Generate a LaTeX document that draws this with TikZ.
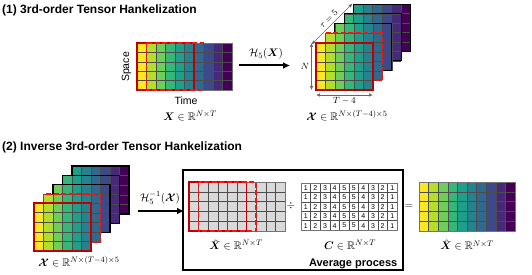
\documentclass[tikz,border=0pt]{standalone}
\usepackage{amsmath,amssymb,bm}
\usepackage[no-math]{fontspec}
\newfontfamily\sansfont{Liberation Sans}
\usetikzlibrary{arrows.meta}
\definecolor{vc0}{HTML}{FDE725}
\definecolor{vc1}{HTML}{B5DE2B}
\definecolor{vc2}{HTML}{6ECE58}
\definecolor{vc3}{HTML}{35B779}
\definecolor{vc4}{HTML}{1F9E89}
\definecolor{vc5}{HTML}{26828E}
\definecolor{vc6}{HTML}{31688E}
\definecolor{vc7}{HTML}{3E4989}
\definecolor{vc8}{HTML}{482878}
\definecolor{vc9}{HTML}{440154}
\definecolor{solidred}{HTML}{C00000}
\definecolor{dashred}{HTML}{FF1010}
\definecolor{cellgrey}{HTML}{D9D9D9}
\tikzset{
  sectitle/.style={font=\sansfont\bfseries\fontsize{12}{14}\selectfont, anchor=base west, inner sep=0pt},
  axislbl/.style={font=\sansfont\fontsize{10.5}{12}\selectfont, inner sep=0pt},
  boldlbl/.style={font=\sansfont\bfseries\fontsize{11}{13}\selectfont, inner sep=0pt},
  mathlbl/.style={font=\fontsize{11}{13}\selectfont, inner sep=0pt},
  smallmath/.style={font=\fontsize{9}{11}\selectfont, inner sep=0pt},
  numlbl/.style={font=\sansfont\fontsize{7}{8}\selectfont, inner sep=0pt},
  gridline/.style={draw=black!70, line width=0.5pt},
  outerline/.style={draw=black!55, line width=0.9pt},
  redsolid/.style={draw=solidred, line width=1.6pt},
  reddash/.style={draw=dashred, line width=1.6pt, dash pattern=on 5pt off 2.5pt},
  slicebd/.style={draw=black, line width=1.2pt},
  bigarrow/.style={-{Latex[length=7pt,width=7pt]}, line width=2pt},
  dimarrow/.style={{Latex[length=4pt,width=3.5pt]}-{Latex[length=4pt,width=3.5pt]}, draw=black!60, line width=0.6pt},
  framebox/.style={draw=black, line width=1.2pt},
}
% colour grid: #1 x, #2 y, #3 first colour, #4 columns, #5 cell width, #6 row height
\newcommand{\cgrid}[6]{%
  \foreach \c in {1,...,#4}{%
    \pgfmathtruncatemacro\ci{#3+\c-1}%
    \fill[vc\ci] ({#1+(\c-1)*#5},{#2}) rectangle ({#1+\c*#5},{#2+5*#6});
  }%
  \foreach \c in {0,...,#4}{%
    \draw[gridline] ({#1+\c*#5},{#2}) -- ({#1+\c*#5},{#2+5*#6});
  }%
  \foreach \r in {0,...,5}{%
    \draw[gridline] ({#1},{#2+\r*#6}) -- ({#1+#4*#5},{#2+\r*#6});
  }%
}
% plain grid: #1 x, #2 y, #3 fill, #4 columns, #5 cell width, #6 row height
\newcommand{\pgrid}[6]{%
  \fill[#3] ({#1},{#2}) rectangle ({#1+#4*#5},{#2+5*#6});
  \foreach \c in {0,...,#4}{%
    \draw[gridline] ({#1+\c*#5},{#2}) -- ({#1+\c*#5},{#2+5*#6});
  }%
  \foreach \r in {0,...,5}{%
    \draw[gridline] ({#1},{#2+\r*#6}) -- ({#1+#4*#5},{#2+\r*#6});
  }%
}
\begin{document}
\begin{tikzpicture}[x=1pt,y=-1pt]
\useasboundingbox (0,0) rectangle (532,275);

% ---------- (1) ----------
\node[sectitle] (t1) at (2,14) {(1) 3rd-order Tensor Hankelization};

% matrix X
\cgrid{137}{43}{0}{10}{9.5}{9.4}
\draw[outerline] (137,43) rectangle (232,90);
\draw[redsolid] (137,43) rectangle (194,90);
\draw[reddash] (146.5,43) rectangle (203.5,90);
\node[axislbl, rotate=90] (space) at (126.5,67) {Space};
\node[axislbl] (time) at (186,101) {Time};
\node[mathlbl] (xlbl) at (190,116) {$\boldsymbol{X}\in\mathbb{R}^{N\times T}$};

% arrow H5
\coordinate (a1s) at (239,65.5);
\coordinate (a1e) at (290,65.5);
\draw[bigarrow] (a1s) -- (a1e);
\node[mathlbl] (h1) at (266,54) {$\mathcal{H}_5(\boldsymbol{X})$};

% tensor stack (top)
\foreach \k in {4,3,2}{%
  \cgrid{316+9.4*\k}{43-9.7*\k}{\k}{6}{9.5}{9.4}
  \draw[slicebd] ({316+9.4*\k},{43-9.7*\k}) rectangle ++(57,47);
}
\cgrid{325.4}{33.3}{1}{6}{9.5}{9.4}
\draw[reddash] (325.4,33.3) rectangle ++(57,47);
\cgrid{316}{43}{0}{6}{9.5}{9.4}
\draw[redsolid] (316,43) rectangle ++(57,47);

% dimension arrows
\coordinate (nT) at (311.5,43);
\coordinate (nB) at (311.5,90);
\draw[dimarrow] (nT) -- (nB);
\node[smallmath] (nlbl) at (305,66) {$N$};
\coordinate (wL) at (316,95);
\coordinate (wR) at (373,95);
\draw[dimarrow] (wL) -- (wR);
\node[smallmath] (wlbl) at (344.5,101) {$T-4$};
\coordinate (dA) at (311.5,44.5);
\coordinate (dB) at (352.5,3.5);
\draw[dimarrow] (dA) -- (dB);
\node[smallmath, rotate=45] (dlbl) at (328.5,19) {$\tau=5$};

\node[mathlbl] (tlbl) at (347,116) {$\boldsymbol{\mathcal{X}}\in\mathbb{R}^{N\times(T-4)\times 5}$};

% ---------- (2) ----------
\node[sectitle] (t2) at (2,151) {(2) Inverse 3rd-order Tensor Hankelization};

% tensor stack (bottom)
\foreach \k in {4,3,2}{%
  \cgrid{34+9.5*\k}{203-9.25*\k}{\k}{6}{9.5}{9.6}
  \draw[slicebd] ({34+9.5*\k},{203-9.25*\k}) rectangle ++(57,48);
}
\cgrid{43.5}{193.75}{1}{6}{9.5}{9.6}
\draw[reddash] (43.5,193.75) rectangle ++(57,48);
\cgrid{34}{203}{0}{6}{9.5}{9.6}
\draw[redsolid] (34,203) rectangle ++(57,48);
\node[mathlbl] (blbl) at (79,262) {$\boldsymbol{\mathcal{X}}\in\mathbb{R}^{N\times(T-4)\times 5}$};

% arrow H5^-1
\coordinate (a2s) at (138,211);
\coordinate (a2e) at (184,211);
\draw[bigarrow] (a2s) -- (a2e);
\node[mathlbl] (h2) at (160,198) {$\mathcal{H}_5^{-1}(\boldsymbol{\mathcal{X}})$};

% average process box
\draw[framebox] (183,170) rectangle (403,270);

% X tilde
\pgrid{189}{182}{cellgrey}{10}{9.6}{9.8}
\draw[outerline] (189,182) rectangle (285,231);
\draw[redsolid] (189,182) rectangle (246.6,231);
\draw[reddash] (198.6,182) rectangle (256.2,231);
\node[mathlbl] (xtl) at (236,245) {$\tilde{\boldsymbol{X}}\in\mathbb{R}^{N\times T}$};

\node[mathlbl] (div) at (291,206) {$\div$};

% C matrix
\pgrid{301}{183}{white}{10}{9.6}{9.4}
\draw[outerline] (301,183) rectangle (397,230);
\foreach \v [count=\c] in {1,2,3,4,5,5,4,3,2,1}{%
  \foreach \r in {1,...,5}{%
    \node[numlbl] (c\c r\r) at ({301+(\c-0.5)*9.6},{183+(\r-0.5)*9.4+0.3}) {\v};
  }
}
\node[mathlbl] (clbl) at (350,245) {$\boldsymbol{C}\in\mathbb{R}^{N\times T}$};
\node[boldlbl, anchor=base east] (avg) at (397.5,266) {Average process};

\node[mathlbl] (eq) at (409,206) {$=$};

% X hat
\cgrid{419}{182}{0}{10}{9.6}{9.8}
\draw[outerline] (419,182) rectangle (515,231);
\node[mathlbl] (xhl) at (467,245) {$\hat{\boldsymbol{X}}\in\mathbb{R}^{N\times T}$};
\end{tikzpicture}
\end{document}
